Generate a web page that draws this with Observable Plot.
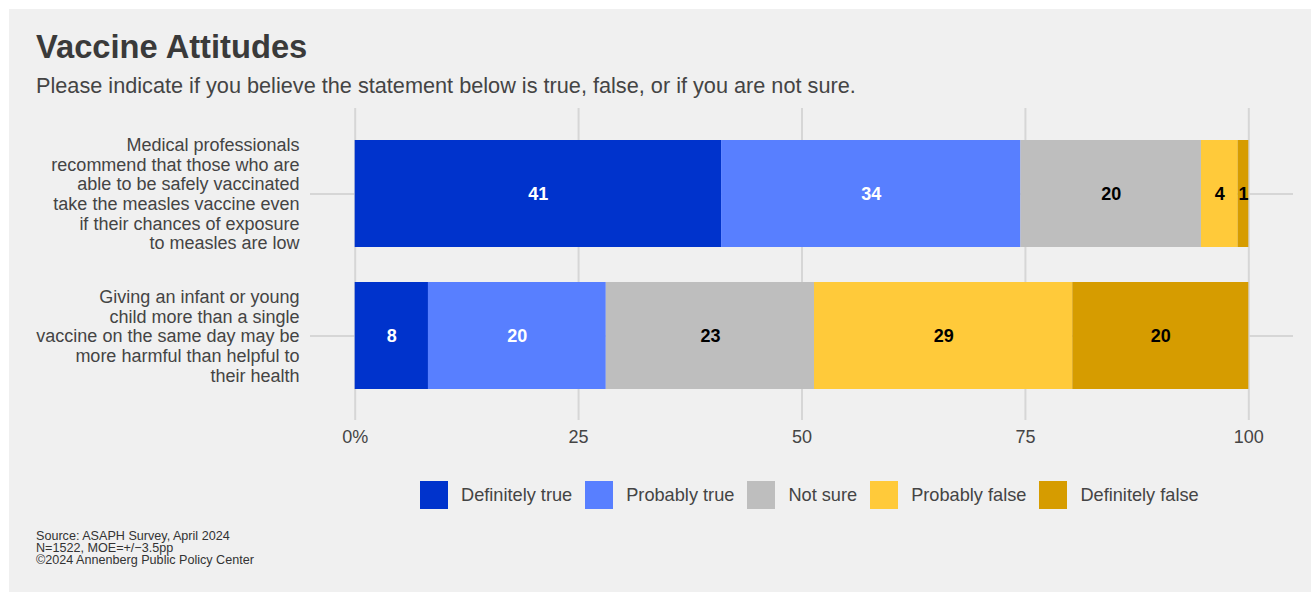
<!DOCTYPE html>
<html>
<head>
<meta charset="utf-8">
<script src="https://cdn.jsdelivr.net/npm/d3@7"></script>
<script src="https://cdn.jsdelivr.net/npm/@observablehq/plot@0.6"></script>
<style>
  html, body { margin: 0; padding: 0; background: #ffffff; }
  body { width: 1311px; height: 592px; position: relative; overflow: hidden; font-family: "Liberation Sans", Arial, sans-serif; }
  #panel { position: absolute; left: 9px; top: 9px; right: 0; bottom: 0; background: #f0f0f0; }
  #title { position: absolute; left: 36px; top: 30.5px; font-size: 32.7px; line-height: 32.5px; font-weight: bold; color: #3a3a3a; white-space: nowrap; }
  #subtitle { position: absolute; left: 36px; top: 74.5px; font-size: 21.7px; line-height: 21px; color: #444; white-space: nowrap; }
  #chart { position: absolute; left: 0; top: 100px; }
  #legend { position: absolute; left: 420px; top: 481px; height: 28px; display: flex; align-items: center; font-size: 18.2px; color: #444; white-space: nowrap; }
  .item { display: flex; align-items: center; margin-right: 13px; }
  .sw { width: 28px; height: 28px; margin-right: 13px; }
  #caption { position: absolute; left: 36px; top: 529.5px; font-size: 12.6px; line-height: 12.2px; color: #333; white-space: pre; }
</style>
</head>
<body>
<div id="panel"></div>
<div id="title"></div>
<div id="subtitle"></div>
<div id="chart"></div>
<div id="legend"></div>
<div id="caption"></div>
<script>
const titleText = "Vaccine Attitudes";
const subtitleText = "Please indicate if you believe the statement below is true, false, or if you are not sure.";
const captionLines = ["Source: ASAPH Survey, April 2024", "N=1522, MOE=+/\u22123.5pp", "\u00a92024 Annenberg Public Policy Center"];

const statements = [
  "Medical professionals\nrecommend that those who are\nable to be safely vaccinated\ntake the measles vaccine even\nif their chances of exposure\nto measles are low",
  "Giving an infant or young\nchild more than a single\nvaccine on the same day may be\nmore harmful than helpful to\ntheir health"
];
const responses = ["Definitely true", "Probably true", "Not sure", "Probably false", "Definitely false"];
const colors = ["#0033cc", "#587fff", "#bebebe", "#ffca3a", "#d69c00"];
const whiteLabelResponses = ["Definitely true", "Probably true"];
// shares (unrounded)
const measlesShares = [41.0, 33.5, 20.2, 4.1, 1.2];
const infantShares = [8.2, 19.9, 23.3, 28.9, 19.7];
// printed labels
const measlesLabels = [41, 34, 20, 4, 1];
const infantLabels = [8, 20, 23, 29, 20];
const xTicks = [0, 25, 50, 75, 100];

const sharesByStatement = [measlesShares, infantShares];
const labelsByStatement = [measlesLabels, infantLabels];
const data = [];
statements.forEach((s, i) => {
  responses.forEach((r, j) => {
    data.push({statement: s, response: r, value: sharesByStatement[i][j], label: labelsByStatement[i][j]});
  });
});

document.getElementById("title").textContent = titleText;
document.getElementById("subtitle").textContent = subtitleText;
document.getElementById("caption").textContent = captionLines.join("\n");

const legend = document.getElementById("legend");
responses.forEach((r, j) => {
  const item = document.createElement("div");
  item.className = "item";
  const sw = document.createElement("div");
  sw.className = "sw";
  sw.style.background = colors[j];
  const lab = document.createElement("span");
  lab.textContent = r;
  item.appendChild(sw);
  item.appendChild(lab);
  legend.appendChild(item);
});

const labelMark = (isWhite) => Plot.text(data, Plot.stackX({
  x: "value", y: "statement", z: "response", order: responses,
  text: d => (whiteLabelResponses.includes(d.response) === isWhite) ? String(d.label) : null,
  fill: isWhite ? "#ffffff" : "#000000",
  fontWeight: "bold",
  fontSize: 18
}));

const chart = Plot.plot({
  width: 1311,
  height: 360,
  marginLeft: 310,
  marginRight: 18,
  marginTop: 8,
  marginBottom: 40,
  style: {background: "transparent", fontFamily: "Liberation Sans, Arial, sans-serif", color: "#444", fontSize: "18px"},
  x: {domain: [-5, 105], axis: null},
  y: {domain: statements, paddingInner: 0.25, paddingOuter: 0.22, axis: null},
  color: {domain: responses, range: colors},
  marks: [
    Plot.gridY({stroke: "#d6d6d6", strokeOpacity: 1, strokeWidth: 2}),
    Plot.ruleX(xTicks, {stroke: "#d6d6d6", strokeWidth: 2}),
    Plot.barX(data, Plot.stackX({x: "value", y: "statement", fill: "response", order: responses})),
    labelMark(true),
    labelMark(false),
    Plot.axisX({ticks: xTicks, tickFormat: d => d === 0 ? "0%" : String(d), tickSize: 0, tickPadding: 10, fontSize: 18, fill: "#444", label: null}),
    Plot.axisY({tickSize: 0, tickPadding: 11, fontSize: 18, lineHeight: 1.09, fill: "#444", label: null})
  ]
});

document.getElementById("chart").appendChild(chart);
</script>
</body>
</html>
